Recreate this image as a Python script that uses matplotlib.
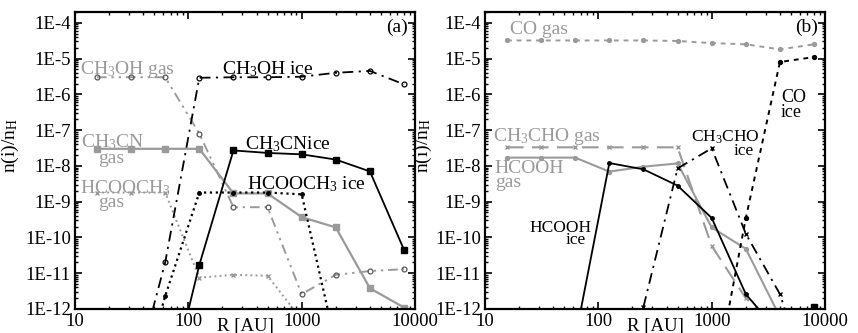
import numpy as np
import matplotlib.pyplot as plt
from matplotlib.ticker import FixedLocator, LogLocator, NullFormatter

plt.rcParams['font.family'] = ['Liberation Serif', 'DejaVu Serif']
plt.rcParams['mathtext.default'] = 'regular'

nan = np.nan
GREY = '#9a9a9a'

# radius grid [AU]
R = [15.6, 31.25, 62.5, 125, 250, 500, 1000, 2000, 4000, 8000]

# panel (a)
ch3oh_gas = [3e-6, 3e-6, 3e-6, 8e-8, 7e-10, 7e-10, 2.6e-12, 9e-12, 1.15e-11, 1.3e-11]
ch3oh_ice = [nan, 5e-15, 2e-11, 2.9e-6, 3e-6, 3e-6, 3.1e-6, 4e-6, 4.5e-6, 1.9e-6]
ch3cn_gas = [3e-8, 3e-8, 3e-8, 3e-8, 1.7e-9, 1.7e-9, 3.7e-10, 1.9e-10, 3.8e-12, 1.1e-12]
ch3cn_ice = [nan, nan, 2e-15, 1.7e-11, 2.7e-8, 2.3e-8, 2.1e-8, 1.5e-8, 7e-9, 4.5e-11]
hcooch3_gas = [1.8e-9, 1.8e-9, 1.8e-9, 7.5e-12, 9e-12, 8.5e-12, 5e-13, nan, nan, nan]
hcooch3_ice = [nan, 1e-15, 2.3e-12, 1.8e-9, 1.8e-9, 1.8e-9, 1.6e-9, 1e-13, nan, nan]

# panel (b)
co_gas = [3.2e-5, 3.2e-5, 3.2e-5, 3.2e-5, 3.2e-5, 3.1e-5, 2.7e-5, 2.5e-5, 1.8e-5, 2.5e-5]
co_ice = [nan, nan, nan, nan, nan, nan, 3e-15, 3.5e-10, 8e-6, 1.1e-5]
ch3cho_gas = [3.3e-8, 3.3e-8, 3.3e-8, 3.3e-8, 3.3e-8, 3.3e-8, 5.8e-11, 2e-12, 3e-13, nan]
ch3cho_ice = [nan, nan, nan, nan, 1.15e-12, 8.5e-9, 3.1e-8, 1.26e-10, 2.6e-12, 3e-15]
hcooh_gas = [1.7e-8, 1.7e-8, 1.7e-8, 6.9e-9, 9.5e-9, 1.17e-8, 1.9e-10, 4.8e-11, 6e-13, nan]
hcooh_ice = [nan, nan, 1.5e-13, 1.2e-8, 8e-9, 2.8e-9, 3.5e-10, 2.6e-12, 2e-13, nan]
stray_b = [nan, nan, nan, nan, nan, nan, nan, nan, nan, 1.15e-12]

yticks = [1e-12, 1e-11, 1e-10, 1e-9, 1e-8, 1e-7, 1e-6, 1e-5, 1e-4]
ylabels = ['1E-12', '1E-11', '1E-10', '1E-9', '1E-8', '1E-7', '1E-6', '1E-5', '1E-4']
xticks = [10, 100, 1000, 10000]
xlabels = ['10', '100', '1000', '10000']

dashdot = (0, (6, 3, 1.2, 3))
dashdot_g = (0, (5, 2.5, 1.2, 2.5, 1.2, 2.5))
shortdash = (0, (2.5, 2.5))


def style(ax, lx):
    ax.set_xscale('log')
    ax.set_yscale('log')
    ax.set_xlim(10, 10000)
    ax.set_ylim(1e-12, 2e-4)
    ax.yaxis.set_major_locator(FixedLocator(yticks))
    ax.set_yticklabels(ylabels)
    ax.yaxis.set_minor_locator(LogLocator(base=10, subs=np.arange(2, 10) * 1.0, numticks=20))
    ax.yaxis.set_minor_formatter(NullFormatter())
    ax.xaxis.set_major_locator(FixedLocator(xticks))
    ax.set_xticklabels(xlabels)
    ax.xaxis.set_minor_locator(LogLocator(base=10, subs=np.arange(2, 10) * 1.0, numticks=20))
    ax.xaxis.set_minor_formatter(NullFormatter())
    ax.tick_params(which='both', direction='in', top=True, right=True, labelsize=13.5, pad=3)
    ax.tick_params(which='major', length=5, width=1.2)
    ax.tick_params(which='minor', length=2.5, width=1)
    for s in ax.spines.values():
        s.set_linewidth(1.6)
    ax.set_xlabel('R [AU]', fontsize=13.5, labelpad=-9)
    ax.set_ylabel('n(i)/n$_H$', fontsize=14)
    ax.yaxis.set_label_coords(lx, 0.55)


fig = plt.figure(figsize=(8.58, 3.33), dpi=100)
ax1 = fig.add_axes([0.0874, 0.0721, 0.3963, 0.8919])
ax2 = fig.add_axes([0.5653, 0.0721, 0.3963, 0.8919])

# ---- (a)
ax1.plot(R, hcooch3_gas, color=GREY, ls=':', lw=1.4, marker='x', ms=3, mew=1)
ax1.plot(R, ch3oh_gas, color=GREY, ls=dashdot_g, lw=1.4, marker='o', ms=3.5, mfc='none', mec='#555555', mew=0.9)
ax1.plot(R, ch3cn_gas, color=GREY, ls='-', lw=1.6, marker='s', ms=5)
ax1.plot(R, ch3oh_ice, color='k', ls=dashdot, lw=1.3, marker='o', ms=3.5, mfc='none', mew=0.9)
ax1.plot(R, ch3cn_ice, color='k', ls='-', lw=1.3, marker='s', ms=4.5)
ax1.plot(R, hcooch3_ice, color='k', ls=':', lw=1.6, marker='o', ms=2.5)

ax1.text(11.1, 3.7e-6, 'CH$_3$OH gas', color=GREY, fontsize=14, va='baseline')
ax1.text(11.3, 3.3e-8, 'CH$_3$CN', color=GREY, fontsize=14, va='baseline')
ax1.text(16, 1.2e-8, 'gas', color=GREY, fontsize=14, va='baseline')
ax1.text(11.1, 1.66e-9, 'HCOOCH$_3$', color=GREY, fontsize=14, va='baseline')
ax1.text(16, 7.2e-10, 'gas', color=GREY, fontsize=14, va='baseline')
ax1.text(200, 3.7e-6, 'CH$_3$OH ice', color='k', fontsize=14, va='baseline')
ax1.text(318, 2.9e-8, 'CH$_3$CNice', color='k', fontsize=14, va='baseline')
ax1.text(330, 2.2e-9, 'HCOOCH$_3$ ice', color='k', fontsize=14, va='baseline')
ax1.text(8700, 1.3e-4, '(a)', color='k', fontsize=14, ha='right', va='top')
style(ax1, -0.16)

# ---- (b)
ax2.plot(R, co_gas, color=GREY, ls=shortdash, lw=1.4, marker='o', ms=2.8)
ax2.plot(R, ch3cho_gas, color=GREY, ls=(0, (8, 4)), lw=1.5, marker='x', ms=3.5, mew=1)
ax2.plot(R, hcooh_gas, color=GREY, ls='-', lw=1.5, marker='o', ms=2.8)
ax2.plot(R, co_ice, color='k', ls=shortdash, lw=1.4, marker='o', ms=2.8)
ax2.plot(R, ch3cho_ice, color='k', ls=dashdot, lw=1.3, marker='x', ms=3.5, mew=1)
ax2.plot(R, hcooh_ice, color='k', ls='-', lw=1.3, marker='o', ms=2.5)
ax2.plot(R, stray_b, ls='none', marker='s', color='k', ms=4)

ax2.text(16.6, 4.9e-5, 'CO gas', color=GREY, fontsize=14, va='baseline')
ax2.text(11.8, 5.1e-8, 'CH$_3$CHO gas', color=GREY, fontsize=14, va='baseline')
ax2.text(12.2, 6.2e-9, 'HCOOH', color=GREY, fontsize=14, va='baseline')
ax2.text(12.2, 2.5e-9, 'gas', color=GREY, fontsize=14, va='baseline')
ax2.text(24.5, 1.45e-10, 'HCOOH', color='k', fontsize=12.5, va='baseline')
ax2.text(51, 6.6e-11, 'ice', color='k', fontsize=12.5, va='baseline')
ax2.text(650, 4.9e-8, 'CH$_3$CHO', color='k', fontsize=12.5, va='baseline')
ax2.text(1550, 1.95e-8, 'ice', color='k', fontsize=12.5, va='baseline')
ax2.text(4100, 6e-7, 'CO', color='k', fontsize=13, va='baseline')
ax2.text(4100, 2.3e-7, 'ice', color='k', fontsize=13, va='baseline')
ax2.text(8700, 1.3e-4, '(b)', color='k', fontsize=14, ha='right', va='top')
style(ax2, -0.15)

fig.savefig('out.png', dpi=100)
